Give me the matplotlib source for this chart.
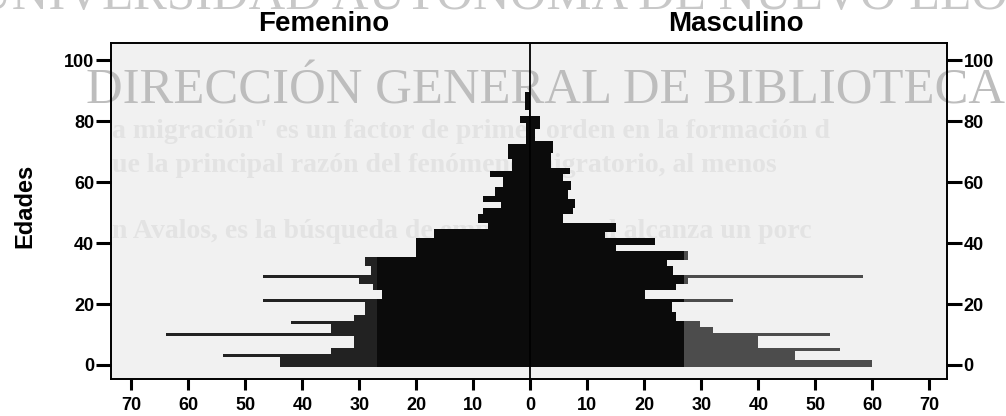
import matplotlib
matplotlib.use("Agg")
import matplotlib.pyplot as plt
import numpy as np

# ---------------- datos (edad simple 0-89) ----------------
edades = np.arange(90)
femenino = [44, 44, 44, 54, 35, 35, 31, 31, 31, 31,
            64, 35, 35, 35, 42, 31, 31, 29, 29, 29,
            29, 47, 26, 26, 26, 27.6, 27.6, 30, 30, 47,
            28, 28, 28, 29, 29, 29, 20, 20, 20, 20,
            20, 20, 17, 17, 17, 7.5, 7.5, 9.2, 9.2, 9.2,
            8.3, 8.3, 5.2, 5.2, 8.3, 8.3, 6.2, 6.2, 6.2, 4.8,
            4.8, 4.8, 7.1, 7.1, 3.3, 3.3, 3.3, 3.3, 3.9, 3.9,
            3.9, 3.9, 3.9, 0.8, 0.8, 0.8, 0.8, 0.8, 0.8, 0.8,
            1.8, 1.8, 0.3, 0.3, 1.0, 1.0, 1.0, 1.0, 1.0, 1.0]
masculino = [60, 60, 46.4, 46.4, 46.4, 54.3, 40, 40, 40, 40,
             52.5, 32, 32, 29.7, 29.7, 25.6, 25.6, 25.6, 24.8, 24.8,
             24.8, 35.6, 20.1, 20.1, 20.1, 25.6, 25.6, 27.6, 27.6, 58.4,
             25, 25, 25, 23.9, 23.9, 27.6, 27.6, 27.6, 15.1, 15.1,
             21.8, 21.8, 13.1, 13.1, 15.1, 15.1, 15.1, 5.7, 5.7, 5.7,
             7.5, 7.5, 7.8, 7.8, 7.8, 6.6, 6.6, 6.6, 7.2, 7.2,
             7.2, 5.8, 5.8, 6.9, 6.9, 3.7, 3.7, 3.7, 3.7, 3.7,
             4, 4, 4, 4, 0.8, 0.8, 0.8, 0.8, 1.7, 1.7,
             1.7, 1.7, 0, 0, 0, 0, 0, 0, 0, 0]
xticks = [-70, -60, -50, -40, -30, -20, -10, 0, 10, 20, 30, 40, 50, 60, 70]
xtick_labels = ['70', '60', '50', '40', '30', '20', '10', '0',
                '10', '20', '30', '40', '50', '60', '70']
yticks = [0, 20, 40, 60, 80, 100]

marca_agua = 'DIRECCIÓN GENERAL DE BIBLIOTECAS'
marca_sup = 'UNIVERSIDAD AUTÓNOMA DE NUEVO LEÓN'
texto_fondo = [
    'a migración" es un factor de primer orden en la formación d',
    'ue la principal razón del fenómeno migratorio, al menos',
    'n Avalos, es la búsqueda de empleo, la cual alcanza un porc',
]

plt.rcParams['font.family'] = ['Liberation Sans', 'DejaVu Sans']

fig = plt.figure(figsize=(10.06, 4.16), dpi=100)
ax = fig.add_axes([0.1103, 0.0889, 0.831, 0.8085])
ax.set_facecolor('#f1f1f1')

fem = np.array(femenino, dtype=float)
mas = np.array(masculino, dtype=float)
corte = 27  # a partir de aqui el escaneo se ve mas gris
fem_in = np.minimum(fem, corte)
mas_in = np.minimum(mas, corte)
ax.barh(edades, -fem_in, height=1.0, color='#0b0b0b', zorder=2)
ax.barh(edades, -(fem - fem_in), left=-fem_in, height=1.0, color='#222222', zorder=2)
ax.barh(edades, mas_in, height=1.0, color='#0b0b0b', zorder=2)
ax.barh(edades, mas - mas_in, left=mas_in, height=1.0, color='#4c4c4c', zorder=2)
ax.axvline(0, color='black', lw=1.3, zorder=3)

ax.set_xlim(-73.6, 73.1)
ax.set_ylim(-4.6, 105.7)
ax.set_xticks(xticks)
ax.set_xticklabels(xtick_labels)
ax.set_yticks(yticks)
for s in ax.spines.values():
    s.set_linewidth(1.4)
ax.tick_params(axis='y', direction='out', length=11, width=2.2, left=True, right=True,
               labelleft=True, labelright=True, labelsize=13, pad=1)
ax.tick_params(axis='x', direction='out', length=8, width=2.2, labelsize=13, pad=5)
for lab in ax.get_xticklabels() + ax.get_yticklabels():
    lab.set_fontweight('bold')

# marca de agua del escaneo
ax.text(86 / 1006, 1 - 103 / 416, marca_agua, transform=fig.transFigure, clip_on=False,
        fontsize=36.5, family=['Liberation Serif', 'DejaVu Serif'], color='#bdbdbd',
        ha='left', va='baseline', zorder=1)
ax.text(-25 / 1006, 1 - 9 / 416, marca_sup, transform=fig.transFigure, clip_on=False,
        fontsize=36.5, family=['Liberation Serif', 'DejaVu Serif'], color='#c8c8c8',
        ha='left', va='baseline', zorder=1)
for i, y in enumerate([138, 172, 238]):
    ax.text(112 / 1006, 1 - y / 416, texto_fondo[i], transform=fig.transFigure, clip_on=False,
            fontsize=20, weight='bold', family=['Liberation Serif', 'DejaVu Serif'],
            color='#e3e3e3', ha='left', va='baseline', zorder=1)

fig.text(324 / 1006, 1 - 24 / 416, 'Femenino', ha='center', va='center', fontsize=20, weight='bold')
fig.text(736 / 1006, 1 - 24 / 416, 'Masculino', ha='center', va='center', fontsize=20, weight='bold')
fig.text(25 / 1006, 1 - 206 / 416, 'Edades', ha='center', va='center', rotation=90,
         fontsize=17, weight='bold')

fig.savefig('out.png', dpi=100)
